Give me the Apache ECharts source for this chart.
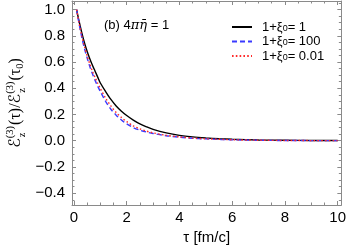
<!DOCTYPE html>
<html><head><meta charset="utf-8">
<script src="https://cdn.jsdelivr.net/npm/echarts@6/dist/echarts.min.js"></script>
<style>html,body{margin:0;padding:0;background:#fff}#c{width:349px;height:252px}</style>
</head><body><div id="c"></div>
<script>
// ---- data ----
const tau = [0.1,0.2,0.3,0.4,0.5,0.6,0.7,0.8,0.9,1.0,1.2,1.4,1.6,1.8,2.0,2.25,2.5,2.75,3.0,3.5,4.0,4.5,5.0,5.5,6.0,7.0,8.0,9.0,10.0];
const xi1   = [1.0,0.905,0.82,0.745,0.68,0.625,0.575,0.53,0.485,0.44,0.375,0.315,0.265,0.225,0.192,0.157,0.128,0.106,0.087,0.06,0.041,0.029,0.021,0.015,0.011,0.006,0.0035,0.002,0.0012];
const xi100 = [1.0,0.885,0.785,0.70,0.63,0.565,0.51,0.46,0.415,0.375,0.30,0.24,0.195,0.158,0.128,0.10,0.08,0.066,0.055,0.038,0.027,0.019,0.014,0.01,0.007,0.0035,0.0018,0.001,0.0005];
const xi001 = [1.0,0.89,0.795,0.715,0.645,0.585,0.53,0.482,0.438,0.398,0.325,0.265,0.215,0.177,0.145,0.113,0.09,0.073,0.06,0.041,0.029,0.02,0.015,0.011,0.0075,0.0038,0.002,0.001,0.0005];
const seriesNames = ['1+ξ0= 1','1+ξ0= 100','1+ξ0= 0.01'];
const xMajor = [0,2,4,6,8,10];
const yMajor = [-0.4,-0.2,0.0,0.2,0.4,0.6,0.8,1.0];
const xMinor = [0.5,1,1.5,2.5,3,3.5,4.5,5,5.5,6.5,7,7.5,8.5,9,9.5];
const yMinor = [-0.45,-0.35,-0.3,-0.25,-0.15,-0.1,-0.05,0.05,0.1,0.15,0.25,0.3,0.35,0.45,0.5,0.55,0.65,0.7,0.75,0.85,0.9,0.95,1.05];
const xRange = [-0.075, 10.14];
const yRange = [-0.49, 1.065];

const SANS = "'Liberation Sans Narrow','Liberation Sans',Arial,sans-serif";
const SERIF = "'Liberation Serif','DejaVu Serif',serif";
const SCRIPT = "'DejaVu Sans','Noto Sans',serif";
const frameColor = '#8a8a8a';

function pair(a){ return tau.map((t,i)=>[t,a[i]]); }
function fmtY(v){ const s=Math.abs(v).toFixed(1); return v< -1e-9 ? '\u2212'+s : s; }

function xAx(pos, vals, len, labels, line){
  return {type:'value', position:pos, min:xRange[0], max:xRange[1],
    axisLine:{show:line, onZero:false, lineStyle:{color:frameColor, width:1}},
    axisTick:{show:true, inside:true, length:len, customValues:vals, lineStyle:{color:frameColor,width:1}},
    axisLabel:{show:labels, customValues:vals, margin:5, color:'#000', fontSize:15, fontFamily:SANS},
    splitLine:{show:false}};
}
function yAx(pos, vals, len, labels, line){
  return {type:'value', position:pos, min:yRange[0], max:yRange[1],
    axisLine:{show:line, onZero:false, lineStyle:{color:frameColor, width:1}},
    axisTick:{show:true, inside:true, length:len, customValues:vals, lineStyle:{color:frameColor,width:1}},
    axisLabel:{show:labels, customValues:vals, margin:7, color:'#000', fontSize:15, fontFamily:SANS, formatter:fmtY},
    splitLine:{show:false}};
}

const xa0 = xAx('bottom', xMajor, 4, true, true);
xa0.name = '\u03c4 [fm/c]'; xa0.nameLocation='middle'; xa0.nameGap=24;
xa0.nameTextStyle = {color:'#000', fontSize:15, fontFamily:SANS};

// measure helper for the rotated y label
const mctx = document.createElement('canvas').getContext('2d');
function w(t, f){ mctx.font=f; return mctx.measureText(t).width; }
const BIG = '16px '+SERIF, SMALL = '10.5px '+SERIF, SCR = '16px '+SCRIPT;
const parts = [];
let cx = 0;
function put(t, f, dy){ parts.push({t,f,x:cx,dy}); cx += w(t,f); }
function stack(sup, sub){ const x0=cx; parts.push({t:sup,f:SMALL,x:x0,dy:-6}); parts.push({t:sub,f:SMALL,x:x0+1,dy:6}); cx = x0+Math.max(w(sup,SMALL), w(sub,SMALL)+1)+1; }
put('\u2130', SCR, 0); stack('(3)','z'); put('(\u03c4)/', BIG, 0);
put('\u2130', SCR, 0); stack('(3)','z'); put('(\u03c4', BIG, 0); put('0', SMALL, 4); put(')', BIG, 0);
const total = cx;
const yLabelChildren = parts.map(p=>({type:'text', x:p.x - total/2, y:p.dy,
  style:{text:p.t, font:p.f, fill:'#000', textAlign:'left', textVerticalAlign:'middle'}}));

const chart = echarts.init(document.getElementById('c'), null, {renderer:'canvas'});
chart.setOption({
  animation:false,
  backgroundColor:'#fff',
  grid:{left:72, right:5, top:1, bottom:47, containLabel:false},
  xAxis:[xa0, xAx('bottom', xMinor, 2.5, false, false), xAx('top', xMajor, 4, false, true), xAx('top', xMinor, 2.5, false, false)],
  yAxis:[yAx('left', yMajor, 4, true, true), yAx('left', yMinor, 2.5, false, false), yAx('right', yMajor, 4, false, true), yAx('right', yMinor, 2.5, false, false)],
  title:{text:'(b) 4{i|\u03c0\u03b7\u0304} = 1', left:99, top:14,
    textStyle:{fontSize:13, fontWeight:'normal', color:'#000', fontFamily:SANS,
      rich:{i:{fontSize:13, fontStyle:'italic', fontFamily:"'DejaVu Serif','Liberation Serif',serif", color:'#000'}}}},
  legend:{orient:'vertical', left:226, top:15, itemWidth:20, itemHeight:10, itemGap:1,
    data:seriesNames,
    itemStyle:{opacity:0},
    formatter:n=>n.replace('\u03be0','\u03be{s|0}'),
    textStyle:{fontSize:13, color:'#000', fontFamily:SANS, lineHeight:12, padding:[0,0,0,5],
      rich:{s:{fontSize:9, fontFamily:SANS, verticalAlign:'bottom', lineHeight:9, padding:[4,0,0,0]}}}},
  graphic:[{type:'group', x:16, y:103, rotation:Math.PI/2, children:yLabelChildren}],
  series:[
    {name:seriesNames[0], type:'line', data:pair(xi1), symbol:'none', smooth:0.3, xAxisIndex:0, yAxisIndex:0,
     lineStyle:{color:'#000', width:1.4, type:'solid'}, itemStyle:{color:'#000', opacity:0}, z:3},
    {name:seriesNames[1], type:'line', data:pair(xi100), symbol:'none', smooth:0.3, xAxisIndex:0, yAxisIndex:0,
     lineStyle:{color:'#3a3aff', width:1.4, type:[5,3]}, itemStyle:{color:'#3a3aff', opacity:0}, z:4},
    {name:seriesNames[2], type:'line', data:pair(xi001), symbol:'none', smooth:0.3, xAxisIndex:0, yAxisIndex:0,
     lineStyle:{color:'#ff2a2a', width:1.4, type:[1.6,2.2]}, itemStyle:{color:'#ff2a2a', opacity:0}, z:5}
  ]
});
</script></body></html>
